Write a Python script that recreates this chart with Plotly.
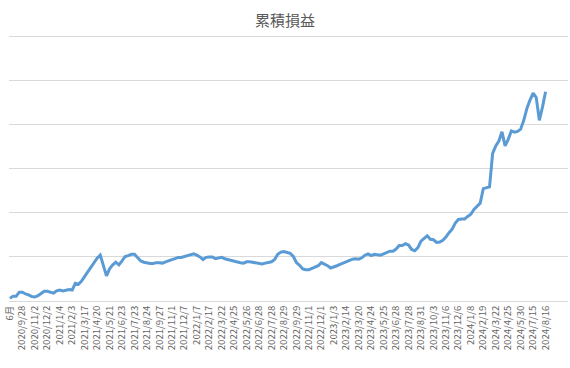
import plotly.graph_objects as go

# Tick labels on the category axis (one every 4 samples)
tick_labels = [
    "6月", "2020/9/28", "2020/11/2", "2020/12/2",
    "2021/1/4", "2021/2/3", "2021/3/17", "2021/4/20", "2021/5/21", "2021/6/23",
    "2021/7/23", "2021/8/24", "2021/9/27", "2021/11/1", "2021/12/7",
    "2022/1/7", "2022/2/17", "2022/3/22", "2022/4/25", "2022/5/26", "2022/6/28",
    "2022/7/28", "2022/8/29", "2022/9/29", "2022/11/1", "2022/12/1",
    "2023/1/3", "2023/2/14", "2023/3/20", "2023/4/24", "2023/5/25", "2023/6/28",
    "2023/7/28", "2023/8/31", "2023/10/3", "2023/11/6", "2023/12/6",
    "2024/1/8", "2024/2/19", "2024/3/22", "2024/4/25", "2024/5/30", "2024/7/15",
    "2024/8/16",
]

# Cumulative P&L (arbitrary units; gridlines every 100)
pnl = [
    6, 11, 11, 20, 20, 16, 14, 10, 9, 12,
    17, 22, 22, 20, 18, 23, 25, 23, 25, 26,
    25, 40, 38, 45, 56, 67, 76, 88, 97, 104,
    82, 57, 73, 82, 88, 82, 91, 101, 103, 106,
    106, 98, 91, 88, 86, 85, 85, 87, 87, 86,
    89, 92, 94, 96, 99, 99, 101, 104, 106, 107,
    104, 100, 94, 99, 100, 100, 96, 97, 99, 96,
    94, 92, 90, 88, 87, 86, 89, 89, 88, 87,
    85, 84, 86, 87, 89, 94, 106, 111, 112, 110,
    108, 101, 87, 81, 73, 71, 71, 74, 77, 80,
    87, 84, 80, 75, 77, 80, 83, 86, 89, 92,
    95, 96, 95, 98, 104, 107, 103, 106, 105, 104,
    107, 110, 113, 113, 118, 126, 126, 130, 127, 117,
    114, 121, 136, 142, 148, 140, 139, 133, 134, 138,
    145, 155, 163, 177, 185, 186, 186, 192, 197, 208,
    216, 222, 255, 257, 259, 335, 352, 363, 384, 352,
    367, 386, 383, 385, 390, 410, 437, 456, 472, 462,
    410, 440, 475,
]

x_idx = list(range(len(pnl)))
tick_vals = [i * 4 for i in range(len(tick_labels))]

fig = go.Figure(
    go.Scatter(
        x=x_idx,
        y=pnl,
        mode="lines",
        line=dict(color="#5b9bd5", width=3),
        hoverinfo="skip",
    )
)

fig.update_layout(
    width=570,
    height=368,
    paper_bgcolor="white",
    plot_bgcolor="white",
    margin=dict(l=7, r=2, t=34, b=67),
    showlegend=False,
    title=dict(
        text="累積損益",
        x=0.5,
        xanchor="center",
        y=1 - 21 / 368,
        yanchor="middle",
        font=dict(family="Noto Sans CJK JP", size=15, color="#595959"),
    ),
    font=dict(family="Noto Sans CJK JP", color="#595959"),
)

fig.update_xaxes(
    range=[-0.3, 179.2],
    tickmode="array",
    tickvals=tick_vals,
    ticktext=tick_labels,
    tickangle=-90,
    tickfont=dict(family="Noto Sans CJK JP", size=9.5, color="#666666"),
    showgrid=False,
    showline=True,
    linecolor="#d9d9d9",
    linewidth=1,
    ticks="",
    zeroline=False,
)

fig.update_yaxes(
    range=[0, 606],
    tickmode="array",
    tickvals=[100, 200, 300, 400, 500, 600],
    showgrid=True,
    gridcolor="#d9d9d9",
    gridwidth=1,
    showticklabels=False,
    zeroline=False,
    showline=False,
    ticks="",
)

fig.write_html("out.html")
